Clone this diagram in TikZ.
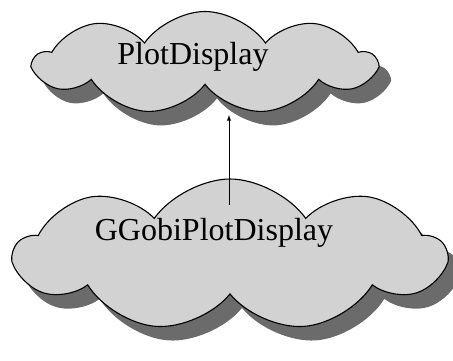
\documentclass[tikz,border=0pt]{standalone}
\usepackage{fontspec}
\setmainfont{Liberation Serif}
\usetikzlibrary{positioning,arrows,shapes.symbols,shadows}
\tikzset{c/.style={cloud, cloud puffs=9, cloud puff arc=110, draw, line width=1.1pt, fill=gray!35,
            drop shadow={shadow xshift=12pt, shadow yshift=-14pt, fill=black!58, opacity=1}},
            t/.style={font=\fontsize{32}{38}\selectfont, inner sep=0pt}}

\begin{document}
\begin{tikzpicture}[x=1pt,y=1pt]
\useasboundingbox (0,0) rectangle (453,360);
\node[c, minimum width=340pt, minimum height=103pt] at (205,297)(plot){};
\node[c, minimum width=430pt, minimum height=152pt] at (230,105)(ggobi){};
\node[t] at ([xshift=-12pt, yshift=6pt]plot.center)(plottext){PlotDisplay};
\node[t] at ([xshift=-16pt, yshift=22pt]ggobi.center)(ggobitext){GGobiPlotDisplay};
\coordinate (from) at (229,155);
\coordinate (to) at (229,245);
\draw[-latex, line width=0.9pt] (from) -- (to);
\end{tikzpicture}
\end{document}
